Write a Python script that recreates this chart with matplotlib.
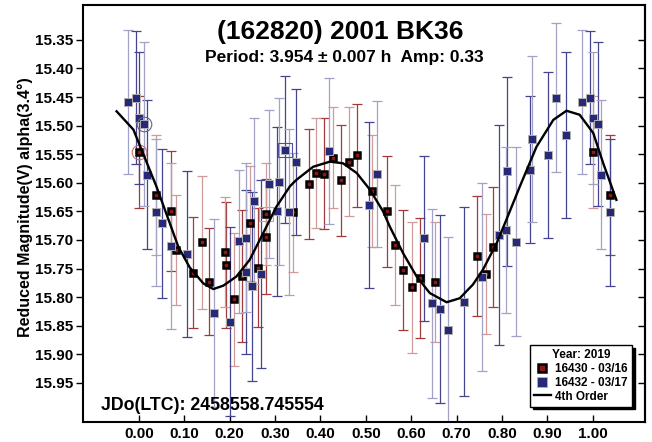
import matplotlib
matplotlib.use("Agg")
import matplotlib.pyplot as plt
from matplotlib.lines import Line2D
import numpy as np

plt.rcParams['font.family'] = ['Liberation Sans', 'DejaVu Sans']
plt.rcParams['font.weight'] = 'bold'

# --- dados (fase, magnitude, erro) ---
red_phase = [0.000, 0.037, 0.070, 0.081, 0.120, 0.140, 0.154, 0.189, 0.192, 0.209,
             0.228, 0.244, 0.263, 0.280, 0.281, 0.339, 0.374, 0.391, 0.408, 0.427,
             0.445, 0.462, 0.480, 0.513, 0.546, 0.565, 0.582, 0.601, 0.619, 0.653,
             0.745, 0.764, 0.780]
red_mag = [15.546, 15.621, 15.649, 15.718, 15.757, 15.704, 15.773, 15.721, 15.744, 15.804,
           15.763, 15.671, 15.749, 15.655, 15.694, 15.652, 15.602, 15.583, 15.584, 15.556,
           15.596, 15.563, 15.552, 15.614, 15.650, 15.709, 15.753, 15.783, 15.767, 15.774,
           15.728, 15.759, 15.713]
red_err = [0.098, 0.105, 0.105, 0.096, 0.097, 0.116, 0.093, 0.096, 0.110, 0.116,
           0.116, 0.100, 0.104, 0.089, 0.100, 0.104, 0.096, 0.097, 0.097, 0.088,
           0.097, 0.096, 0.090, 0.098, 0.097, 0.105, 0.105, 0.115, 0.105, 0.105,
           0.105, 0.105, 0.105]

blue_phase = [0.001, 0.011, 0.018, 0.037, 0.052, 0.070, 0.105, 0.165, 0.200, 0.220,
              0.235, 0.237, 0.250, 0.254, 0.269, 0.287, 0.305, 0.308, 0.323, 0.331,
              0.347, 0.418, 0.507, 0.525, 0.628, 0.645, 0.664, 0.681, 0.717, 0.757,
              0.794, 0.809, 0.812, 0.830, 0.862, 0.865, 0.901, 0.918, 0.941, 0.976,
              0.994]
blue_mag = [15.487, 15.497, 15.586, 15.652, 15.671, 15.710, 15.724, 15.828, 15.843, 15.702,
            15.756, 15.696, 15.781, 15.632, 15.760, 15.602, 15.650, 15.598, 15.542, 15.651,
            15.564, 15.545, 15.639, 15.585, 15.697, 15.811, 15.821, 15.858, 15.808, 15.765,
            15.691, 15.683, 15.580, 15.703, 15.577, 15.523, 15.552, 15.451, 15.517, 15.459,
            15.451]
blue_err = [0.115, 0.144, 0.130, 0.129, 0.130, 0.145, 0.145, 0.164, 0.165, 0.125,
            0.144, 0.130, 0.165, 0.145, 0.164, 0.130, 0.148, 0.146, 0.128, 0.145,
            0.128, 0.128, 0.145, 0.128, 0.144, 0.165, 0.164, 0.164, 0.165, 0.165,
            0.192, 0.145, 0.165, 0.165, 0.129, 0.145, 0.145, 0.130, 0.145, 0.126,
            0.116]

# curva de ajuste (4a ordem)
fit_phase = [-0.049, -0.012, 0.009, 0.039, 0.061, 0.087, 0.112, 0.142, 0.164, 0.186,
             0.215, 0.244, 0.274, 0.303, 0.333, 0.347, 0.384, 0.421, 0.450, 0.480,
             0.509, 0.538, 0.553, 0.582, 0.612, 0.641, 0.678, 0.707, 0.736, 0.758,
             0.788, 0.810, 0.839, 0.876, 0.913, 0.942, 0.971, 1.001, 1.023, 1.052]
fit_mag = [15.475, 15.507, 15.548, 15.607, 15.655, 15.712, 15.748, 15.776, 15.786, 15.780,
           15.764, 15.735, 15.688, 15.642, 15.606, 15.595, 15.572, 15.563, 15.566, 15.583,
           15.612, 15.650, 15.677, 15.723, 15.764, 15.793, 15.809, 15.802, 15.778, 15.752,
           15.706, 15.664, 15.607, 15.537, 15.490, 15.474, 15.481, 15.513, 15.566, 15.630]

y_ticks = [15.35, 15.40, 15.45, 15.50, 15.55, 15.60, 15.65, 15.70, 15.75, 15.80, 15.85, 15.90, 15.95]
x_ticks = [0.0, 0.1, 0.2, 0.3, 0.4, 0.5, 0.6, 0.7, 0.8, 0.9, 1.0]

LO, HI = -0.03, 1.045   # janela de fase mostrada (pontos repetidos)


def estender(ph, mag, err):
    ph, mag, err = np.array(ph), np.array(mag), np.array(err)
    a = ph - 1 >= LO
    b = ph + 1 <= HI
    return (np.concatenate([ph, ph[a] - 1, ph[b] + 1]),
            np.concatenate([mag, mag[a], mag[b]]),
            np.concatenate([err, err[a], err[b]]))


rx, ry, re = estender(red_phase, red_mag, red_err)
bx, by, be = estender(blue_phase, blue_mag, blue_err)

fig = plt.figure(figsize=(6.52, 4.42), dpi=100)
ax = fig.add_axes([83/652, 20.3/442, 562/652, 416.7/442])


def barras(x, y, e, cores):
    for k, c in enumerate(cores):
        ax.errorbar(x[k::2], y[k::2], yerr=e[k::2], fmt='none', ecolor=c,
                    elinewidth=0.9, capsize=3.5, capthick=0.9, zorder=2)


barras(rx, ry, re, ['#a33a3a', '#cf9a9a'])
barras(bx, by, be, ['#45458f', '#a2a2c6'])

ax.plot(rx, ry, 's', ms=4.7, mfc='#8e1616', mec='black', mew=1.8, zorder=3)
ax.plot(bx, by, 's', ms=6.0, mfc='#282878', mec='#b0b0b0', mew=0.7, zorder=4)

# marcas de seleção
ax.plot([red_phase[0]], [red_mag[0]], 'o', ms=10.5, mfc='none', mec='#c07070', mew=0.8, zorder=5)
ax.plot([blue_phase[1]], [blue_mag[1]], 'o', ms=10.5, mfc='none', mec='#6060a0', mew=0.8, zorder=5)
ax.plot([red_phase[13]], [red_mag[13]], 's', ms=10.5, mfc='none', mec='#d09a9a', mew=0.8, zorder=5)
ax.plot([blue_phase[18]], [blue_mag[18]], 's', ms=10.5, mfc='none', mec='#5050a0', mew=0.8, zorder=5)

ax.plot(fit_phase, fit_mag, color='black', lw=1.7, zorder=6)

ax.set_xlim(-0.123, 1.115)
ax.set_ylim(16.018, 15.289)
ax.set_xticks(x_ticks)
ax.set_xticklabels([f"{v:.2f}" for v in x_ticks])
ax.set_yticks(y_ticks)
ax.set_yticklabels([f"{v:.2f}" for v in y_ticks])
ax.tick_params(axis='x', direction='in', length=5, width=1, labelsize=11, pad=4)
ax.tick_params(axis='y', direction='out', length=5, width=1, labelsize=11, pad=2)
for s in ax.spines.values():
    s.set_linewidth(1.5)

sec = ax.secondary_yaxis('right')
sec.set_yticks(y_ticks)
sec.tick_params(direction='in', length=5, width=1, labelright=False)
sec.spines['right'].set_linewidth(1.5)

fig.text(340/652, 1 - 32/442, "(162820) 2001 BK36", ha='center', va='center',
         fontsize=19, fontweight='bold')
fig.text(344/652, 1 - 57.5/442, "Period: 3.954 \u00b1 0.007 h  Amp: 0.33", ha='center',
         va='center', fontsize=12.5, fontweight='bold')
fig.text(101/652, 1 - 406/442, "JDo(LTC): 2458558.745554", ha='left', va='center',
         fontsize=12.8, fontweight='bold')
fig.text(25/652, 1 - 207/442, "Reduced Magnitude(V) alpha(3.4\u00b0)", rotation=90,
         ha='center', va='center', fontsize=11.5, fontweight='bold')

handles = [
    Line2D([], [], ls='none', marker='s', ms=6, mfc='#8e1616', mec='black', mew=1.8),
    Line2D([], [], ls='none', marker='s', ms=6.5, mfc='#282878', mec='#b0b0b0', mew=0.7),
    Line2D([], [], color='black', lw=1.7),
]
leg = ax.legend(handles, ["16430 - 03/16", "16432 - 03/17", "4th Order"],
                title="Year: 2019", loc='lower right', bbox_to_anchor=(0.977, 0.036),
                borderaxespad=0, fancybox=False, edgecolor='black', framealpha=1,
                shadow={'color': 'black', 'alpha': 1}, prop={'size': 8.5, 'weight': 'bold'},
                title_fontproperties={'size': 8.5, 'weight': 'bold'},
                handlelength=1.4, handletextpad=0.4, labelspacing=0.15,
                borderpad=0.35)
leg.get_frame().set_linewidth(1.0)
leg.set_zorder(10)

fig.savefig("out.png", dpi=100)
